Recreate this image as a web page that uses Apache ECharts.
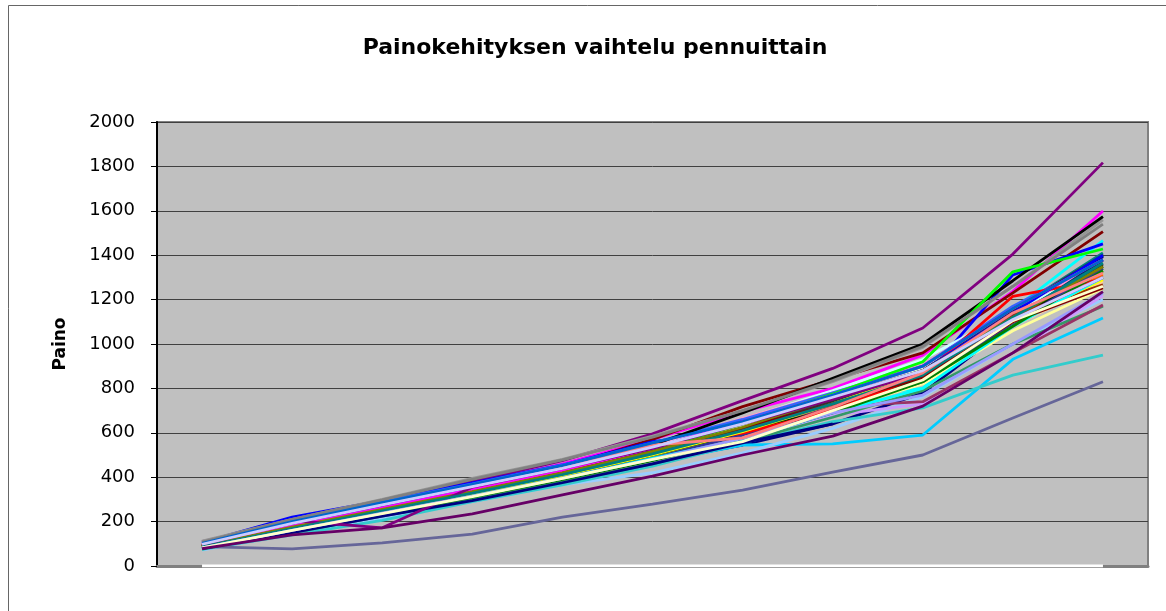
<!DOCTYPE html>
<html>
<head>
<meta charset="utf-8">
<script src="https://cdn.jsdelivr.net/npm/echarts@6/dist/echarts.min.js"></script>
<style>html,body{margin:0;padding:0;background:#fff}#c{width:1166px;height:611px}</style>
</head>
<body>
<div id="c"></div>
<script>
const titleText = 'Painokehityksen vaihtelu pennuittain';
const yAxisName = 'Paino';
const categories = ['1','2','3','4','5','6','7','8','9','10','11'];
const yTicks = {min: 0, max: 2000, step: 200};

const pup01 = [78,150,225,300,380,470,545,640,780,1090,1394];
const pup02 = [100,200,285,370,460,570,695,800,950,1237,1599];
const pup03 = [88,170,250,330,415,505,610,720,850,1120,1320];
const pup04 = [82,165,245,325,405,500,620,760,800,1155,1466];
const pup05 = [110,205,290,380,475,595,745,890,1072,1405,1817];
const pup06 = [92,182,265,350,445,570,718,840,960,1230,1506];
const pup07 = [85,168,248,330,415,510,625,745,880,1150,1410];
const pup08 = [105,220,295,375,455,560,610,700,840,1311,1451];
const pup09 = [75,150,220,300,380,465,545,550,590,931,1117];
const pup10 = [95,185,270,355,440,540,660,790,930,1150,1340];
const pup11 = [90,175,255,340,425,520,630,760,890,1120,1300];
const pup12 = [85,165,245,320,400,490,585,700,820,1060,1250];
const pup13 = [72,145,215,290,365,420,510,620,763,1000,1200];
const pup14 = [98,190,275,360,450,545,665,780,905,1160,1360];
const pup15 = [80,160,235,310,385,465,560,680,730,960,1218];
const pup16 = [88,172,250,330,410,500,600,710,840,1080,1280];
const pup17 = [100,205,290,370,455,555,660,780,900,1170,1380];
const pup18 = [75,140,205,290,365,450,555,650,712,860,950];
const pup19 = [82,160,240,320,400,490,595,720,860,1110,1340];
const pup20 = [86,168,248,328,410,500,600,740,870,1130,1330];
const pup21 = [90,172,252,332,415,505,605,730,860,1110,1300];
const pup22 = [92,178,258,338,420,510,615,735,880,1140,1311];
const pup23 = [87,77,104,144,220,279,342,423,500,667,830];
const pup24 = [112,210,300,395,480,585,700,830,985,1260,1559];
const pup25 = [84,165,245,325,410,500,605,725,860,1110,1378];
const pup26 = [76,150,225,300,380,460,560,670,790,1000,1170];
const pup27 = [85,165,245,320,405,500,600,715,845,1100,1350];
const pup28 = [88,170,250,330,410,505,610,735,865,1120,1360];
const pup29 = [90,175,255,335,420,510,620,740,880,1130,1266];
const pup30 = [95,185,268,350,435,520,620,718,740,960,1176];
const pup31 = [82,162,240,318,398,485,590,700,830,1090,1340];
const pup32 = [85,170,250,330,412,505,615,740,880,1150,1400];
const pup33 = [88,178,262,345,432,545,690,845,1000,1285,1574];
const pup34 = [0,0,0,0,0,0,0,0,0,0,0];
const pup35 = [86,168,250,330,415,537,599,700,860,1215,1291];
const pup36 = [90,175,258,340,425,520,640,775,920,1325,1428];
const pup37 = [95,180,262,345,430,530,650,760,880,1140,1400];
const pup38 = [84,166,246,326,408,500,605,730,870,1100,1290];
const pup39 = [92,180,262,345,430,530,650,770,900,1160,1380];
const pup40 = [80,158,236,315,395,485,570,690,800,1080,1300];
const pup41 = [88,172,252,332,418,515,620,730,850,1100,1252];
const pup42 = [80,155,232,310,390,475,575,690,830,1080,1330];
const pup43 = [78,150,225,295,375,460,555,640,null,null,null];
const pup44 = [90,175,255,335,420,515,625,760,880,1120,1348];
const pup45 = [92,205,172,355,440,530,640,750,870,1110,1300];
const pup46 = [86,168,248,328,412,505,610,730,860,1120,1365];
const pup47 = [108,210,298,390,478,580,700,835,990,1260,1540];
const pup48 = [82,160,238,315,395,480,575,690,770,1000,1230];
const pup49 = [82,160,236,312,395,480,560,700,838,1105,1260];
const pup50 = [78,140,172,235,320,405,500,585,720,960,1236];
const pup51 = [100,195,280,362,445,545,577,715,870,1140,1320];
const pup52 = [102,200,285,368,452,555,650,770,900,1160,1380];
const pup53 = [98,192,275,358,440,535,640,760,880,1110,1300];

const seriesData = [pup01,pup02,pup03,pup04,pup05,pup06,pup07,pup08,pup09,pup10,
  pup11,pup12,pup13,pup14,pup15,pup16,pup17,pup18,pup19,pup20,pup21,pup22,pup23,
  pup24,pup25,pup26,pup27,pup28,pup29,pup30,pup31,pup32,pup33,pup34,pup35,pup36,
  pup37,pup38,pup39,pup40,pup41,pup42,pup43,pup44,pup45,pup46,pup47,pup48,pup49,
  pup50,pup51,pup52,pup53];

const seriesColors = ['#000080','#FF00FF','#FFFF00','#00FFFF','#800080','#800000','#008080','#0000FF',
  '#00CCFF','#CCFFFF','#CCFFCC','#FFFF99','#99CCFF','#FF99CC','#CC99FF','#FFCC99','#3366FF','#33CCCC',
  '#99CC00','#FFCC00','#FF9900','#FF6600','#666699','#969696','#003366','#339966','#003300','#333300',
  '#993300','#993366','#333399','#333333','#000000','#FFFFFF','#FF0000','#00FF00','#0000FF','#FFFF00',
  '#FF00FF','#00FFFF','#800000','#008000','#000080','#808000','#800080','#008080','#808080','#9999FF',
  '#FFFFCC','#660066','#FF8080','#0066CC','#CCCCFF'];

const chart = echarts.init(document.getElementById('c'), null, {renderer: 'canvas'});
chart.setOption({
  animation: false,
  backgroundColor: '#ffffff',
  title: {
    text: titleText,
    left: 590,
    textAlign: 'center',
    top: 32,
    textStyle: {fontFamily: 'DejaVu Sans', fontWeight: 'bold', fontSize: 22, color: '#000'}
  },
  graphic: [{
    type: 'rect', silent: true, z: -1,
    shape: {x: 8.5, y: 5.5, width: 1300, height: 800},
    style: {fill: null, stroke: '#666', lineWidth: 1}
  }],
  grid: {
    left: 157, top: 122, right: 18, bottom: 45,
    show: true, backgroundColor: '#C0C0C0', borderColor: '#808080', borderWidth: 2
  },
  xAxis: {
    type: 'category', data: categories, boundaryGap: true,
    axisLine: {show: true, lineStyle: {color: '#808080', width: 3}},
    axisTick: {show: false}, axisLabel: {show: false}, splitLine: {show: false}
  },
  yAxis: {
    type: 'value', min: yTicks.min, max: yTicks.max, interval: yTicks.step,
    name: yAxisName, nameLocation: 'middle', nameRotate: 90, nameGap: 88,
    nameTextStyle: {fontFamily: 'DejaVu Sans', fontWeight: 'bold', fontSize: 17, color: '#000'},
    axisLine: {show: true, lineStyle: {color: '#000', width: 2}},
    axisTick: {show: true, length: 6, lineStyle: {color: '#000', width: 1}},
    axisLabel: {margin: 22, fontFamily: 'DejaVu Sans', fontSize: 18, color: '#000',
      formatter: v => String(v)},
    splitLine: {show: true, lineStyle: {color: '#404040', width: 1}}
  },
  series: seriesData.map((d, i) => ({
    type: 'line', data: d, symbol: 'none', showSymbol: false,
    connectNulls: false, silent: true,
    lineStyle: {color: seriesColors[i], width: 2.8},
    itemStyle: {color: seriesColors[i]},
    emphasis: {disabled: true}
  }))
});
</script>
</body>
</html>
